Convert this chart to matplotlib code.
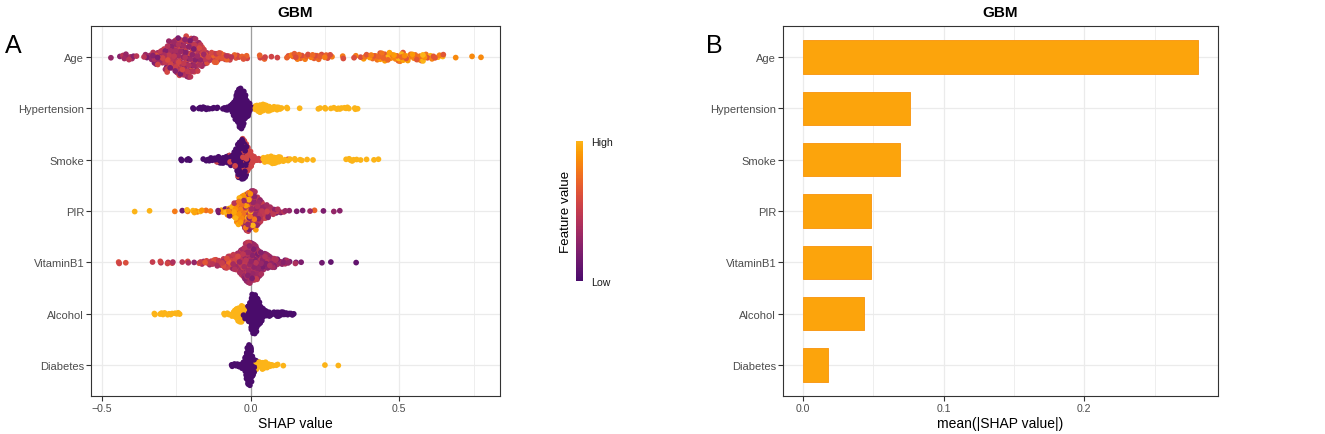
import numpy as np
import matplotlib
matplotlib.use('Agg')
import matplotlib.pyplot as plt
from matplotlib.colors import LinearSegmentedColormap, Normalize
from matplotlib.cm import ScalarMappable
from matplotlib.ticker import MultipleLocator

plt.rcParams['font.family'] = ['Liberation Sans', 'DejaVu Sans']

features = ['Age', 'Hypertension', 'Smoke', 'PIR', 'VitaminB1', 'Alcohol', 'Diabetes']
mean_abs_shap = [0.281, 0.0759, 0.0693, 0.0488, 0.0488, 0.0433, 0.0182]

# beeswarm data:
# *_x  = SHAP value (bin centre), *_n = number of points there,
# *_lo / *_hi = range of the (scaled) feature value of those points, 0 = low, 1 = high
age_x = [-0.47, -0.43, -0.41, -0.39, -0.35, -0.33, -0.31, -0.29, -0.27, -0.25, -0.23, -0.21,
         -0.19, -0.17, -0.15, -0.13, -0.11, -0.09, -0.07, -0.05, -0.03, -0.01, 0.03, 0.05,
         0.07, 0.09, 0.13, 0.15, 0.17, 0.19, 0.21, 0.23, 0.25, 0.27, 0.31, 0.35, 0.37, 0.39,
         0.41, 0.43, 0.45, 0.47, 0.49, 0.51, 0.53, 0.55, 0.57, 0.59, 0.61, 0.63, 0.65, 0.69,
         0.745, 0.775]
age_n = [1, 3, 4, 3, 3, 6, 10, 14, 19, 23, 26, 26,
         24, 17, 9, 7, 6, 5, 4, 3, 3, 2, 2, 2,
         1, 1, 3, 4, 4, 3, 4, 4, 3, 2, 2, 2, 1, 3,
         4, 5, 5, 6, 5, 6, 5, 5, 4, 4, 3, 3, 2, 1,
         1, 1]
age_lo = [0.3, 0.25, 0.25, 0.25, 0.2, 0.2, 0.2, 0.2, 0.2, 0.2, 0.2, 0.2,
          0.2, 0.3, 0.3, 0.45, 0.45, 0.45, 0.45, 0.55, 0.55, 0.55, 0.55, 0.55,
          0.55, 0.55, 0.6, 0.6, 0.6, 0.6, 0.6, 0.6, 0.6, 0.6, 0.6, 0.6, 0.6, 0.65,
          0.65, 0.65, 0.65, 0.65, 0.65, 0.65, 0.65, 0.65, 0.65, 0.65, 0.65, 0.65, 0.65, 0.85,
          0.85, 0.85]
age_hi = [0.3, 0.45, 0.45, 0.45, 0.45, 0.45, 0.6, 0.6, 0.6, 0.6, 0.6, 0.6,
          0.6, 0.65, 0.65, 0.7, 0.7, 0.7, 0.7, 0.7, 0.7, 0.7, 0.7, 0.7,
          0.7, 0.7, 0.8, 0.8, 0.8, 0.8, 0.8, 0.8, 0.8, 0.8, 0.8, 0.8, 0.8, 0.9,
          0.9, 0.9, 0.9, 1.0, 1.0, 1.0, 1.0, 1.0, 1.0, 1.0, 1.0, 1.0, 1.0, 0.85,
          0.85, 0.85]

hyp_x = [-0.19, -0.17, -0.15, -0.13, -0.11, -0.09, -0.07, -0.055, -0.04, -0.028, -0.016,
         -0.008, 0.025, 0.04, 0.06, 0.08, 0.10, 0.12, 0.165, 0.23, 0.25, 0.27, 0.29, 0.31,
         0.33, 0.35, 0.36]
hyp_n = [2, 3, 4, 3, 2, 3, 6, 18, 45, 40, 22,
         8, 10, 13, 9, 6, 3, 2, 1, 2, 2, 1, 3, 3,
         3, 2, 1]
hyp_lo = [0, 0, 0, 0, 0, 0, 0, 0, 0, 0, 0,
          0, 1, 1, 1, 1, 1, 1, 1, 1, 1, 1, 1, 1,
          1, 1, 1]
hyp_hi = hyp_lo

smk_x = [-0.23, -0.21, -0.15, -0.13, -0.11, -0.09, -0.07, -0.05, -0.035, -0.02,
         -0.11, -0.07, -0.05, -0.02, -0.005, 0.01, 0.03,
         0.05, 0.07, 0.09, 0.11, 0.125, 0.13, 0.15, 0.17, 0.19, 0.21,
         0.33, 0.35, 0.37, 0.39, 0.415, 0.43]
smk_n = [2, 3, 3, 5, 7, 9, 12, 16, 42, 24,
         2, 2, 4, 16, 20, 7, 3,
         8, 11, 8, 4, 1, 2, 2, 2, 1, 1,
         3, 3, 1, 1, 1, 1]
smk_lo = [0, 0, 0, 0, 0, 0, 0, 0, 0, 0,
          0.55, 0.55, 0.55, 0.55, 0.55, 0.55, 0.55,
          1, 1, 1, 1, 0.55, 1, 1, 1, 1, 1,
          1, 1, 1, 1, 1, 1]
smk_hi = smk_lo

pir_x = [-0.39, -0.34, -0.255, -0.23, -0.21, -0.19, -0.17, -0.15, -0.135, -0.11, -0.09, -0.085,
         -0.07, -0.07, -0.05, -0.05, -0.03, -0.03, -0.01, -0.01, 0.01, 0.01, 0.03, 0.05,
         0.07, 0.09, 0.11, 0.13, 0.155, 0.175, 0.2, 0.215, 0.245, 0.28, 0.3]
pir_n = [1, 1, 1, 1, 2, 3, 3, 1, 1, 2, 3, 1,
         8, 2, 16, 4, 22, 8, 20, 24, 7, 36, 26, 15,
         8, 5, 3, 1, 1, 1, 1, 1, 1, 1, 1]
pir_lo = [1.0, 1.0, 0.8, 0.15, 0.8, 0.9, 0.8, 0.75, 0.8, 0.15, 0.9, 0.15,
          0.85, 0.15, 0.8, 0.2, 0.7, 0.2, 0.7, 0.2, 0.75, 0.25, 0.25, 0.25,
          0.25, 0.2, 0.2, 0.3, 0.2, 0.2, 0.35, 0.7, 0.2, 0.3, 0.25]
pir_hi = [1.0, 1.0, 0.8, 0.15, 1.0, 1.0, 1.0, 0.75, 0.8, 0.2, 1.0, 0.15,
          1.0, 0.3, 1.0, 0.45, 1.0, 0.5, 1.0, 0.55, 1.0, 0.55, 0.55, 0.55,
          0.5, 0.5, 0.45, 0.3, 0.2, 0.2, 0.35, 0.7, 0.2, 0.3, 0.25]

vb1_x = [-0.44, -0.42, -0.33, -0.30, -0.28, -0.26, -0.23, -0.21, -0.19, -0.17, -0.15, -0.13,
         -0.11, -0.09, -0.07, -0.05, -0.03, -0.01, 0.01, 0.03, 0.05, 0.07, 0.09, 0.11,
         0.13, 0.15, 0.17, 0.24, 0.27, 0.355]
vb1_n = [2, 1, 1, 2, 2, 2, 1, 2, 1, 3, 4, 6,
         8, 10, 13, 19, 30, 44, 44, 30, 19, 12, 7, 5,
         3, 2, 1, 1, 1, 1]
vb1_lo = [0.55, 0.6, 0.5, 0.45, 0.45, 0.4, 0.45, 0.4, 0.3, 0.4, 0.4, 0.35,
          0.35, 0.35, 0.35, 0.3, 0.3, 0.25, 0.2, 0.2, 0.2, 0.2, 0.2, 0.2,
          0.2, 0.2, 0.2, 0.15, 0.1, 0.1]
vb1_hi = [0.6, 0.6, 0.5, 0.55, 0.55, 0.55, 0.45, 0.6, 0.3, 0.6, 0.65, 0.6,
          0.6, 0.6, 0.7, 0.6, 0.55, 0.5, 0.5, 0.5, 0.45, 0.45, 0.45, 0.4,
          0.4, 0.4, 0.2, 0.15, 0.1, 0.1]

alc_x = [-0.32, -0.30, -0.28, -0.26, -0.24, -0.09, -0.07, -0.055, -0.04, -0.025,
         -0.015, 0.0, 0.012, 0.025, 0.04, 0.06, 0.08, 0.10, 0.12, 0.14]
alc_n = [2, 3, 3, 3, 3, 2, 3, 8, 20, 12,
         8, 26, 46, 28, 14, 8, 6, 6, 5, 3]
alc_lo = [1, 1, 1, 1, 1, 1, 1, 1, 1, 1,
          0, 0, 0, 0, 0, 0, 0, 0, 0, 0]
alc_hi = alc_lo

dia_x = [-0.06, -0.045, -0.03, -0.015, -0.006, 0.004, 0.015, 0.04,
         0.02, 0.035, 0.05, 0.065, 0.085, 0.11, 0.25, 0.295]
dia_n = [2, 4, 6, 8, 46, 18, 3, 1,
         6, 7, 6, 4, 3, 1, 1, 1]
dia_lo = [0, 0, 0, 0, 0, 0, 0, 0,
          1, 1, 1, 1, 1, 1, 1, 1]
dia_hi = dia_lo

swarm = [(age_x, age_n, age_lo, age_hi), (hyp_x, hyp_n, hyp_lo, hyp_hi),
         (smk_x, smk_n, smk_lo, smk_hi), (pir_x, pir_n, pir_lo, pir_hi),
         (vb1_x, vb1_n, vb1_lo, vb1_hi), (alc_x, alc_n, alc_lo, alc_hi),
         (dia_x, dia_n, dia_lo, dia_hi)]

cmap = LinearSegmentedColormap.from_list('fv', plt.cm.inferno(np.linspace(0.22, 0.83, 256)))
ink = '#333333'
grid_col = '#EBEBEB'
rows = np.arange(len(features))[::-1]


def sina_layout(xs, ns, los, his, half=0.41, bw=0.006):
    # spread the points like geom_sina: width follows the local density
    px, pv = [], []
    for x, n, lo, hi in zip(xs, ns, los, his):
        px += [x] * n
        pv += list(np.linspace(lo, hi, n))
    px = np.array(px, float)
    pv = np.array(pv, float)
    k = np.arange(len(px)) + 1
    g = 1.32471795724474602596
    u = (0.5 + k / g) % 1
    v = (0.5 + k / g ** 2) % 1
    counts = np.repeat(ns, ns)
    spread = np.where(counts > 2, 0.02, 0.008 * (counts - 1))
    px = px + spread * (u - 0.5)
    dens = np.exp(-0.5 * ((px[:, None] - px[None, :]) / bw) ** 2).sum(axis=1)
    hw = half * dens / dens.max()
    dy = hw * (2 * v - 1)
    order = np.argsort((k * 0.6180339887) % 1)
    return px[order], dy[order], pv[order]


def style(ax, xlim):
    ax.set_ylim(-0.6, len(features) - 0.4)
    ax.set_xlim(*xlim)
    ax.set_yticks(rows)
    ax.set_yticklabels(features)
    ax.set_axisbelow(True)
    ax.grid(which='major', color=grid_col, lw=0.9)
    ax.grid(which='minor', axis='x', color=grid_col, lw=0.6)
    for s in ax.spines.values():
        s.set_color(ink)
        s.set_linewidth(0.8)
    ax.tick_params(which='major', length=3.4, width=0.8, color=ink,
                   labelcolor='#4D4D4D', labelsize=7.6, pad=1.5)
    ax.tick_params(axis='y', labelsize=8)
    ax.tick_params(which='minor', length=0)
    ax.set_title('GBM', fontweight='bold', fontsize=11, pad=7)


fig = plt.figure(figsize=(13.25, 4.35), dpi=100)

# A: SHAP summary (beeswarm)
ax1 = fig.add_axes([91 / 1325, 38 / 435, 409 / 1325, 370 / 435])
ax1.axvline(0, color='#9E9E9E', lw=0.9, zorder=1)
for row, (xs, ns, los, his) in zip(rows, swarm):
    px, dy, pv = sina_layout(xs, ns, los, his)
    ax1.scatter(px, row + dy, c=pv, cmap=cmap, vmin=0, vmax=1, s=17, linewidths=0, zorder=3)
ax1.xaxis.set_major_locator(MultipleLocator(0.5))
ax1.xaxis.set_minor_locator(MultipleLocator(0.25))
style(ax1, (-0.537, 0.839))
ax1.set_xticks([-0.5, 0, 0.5])
ax1.set_xticklabels(['\u22120.5', '0.0', '0.5'])
ax1.set_xlabel('SHAP value', fontsize=10, labelpad=2)

cax = fig.add_axes([576 / 1325, 1 - 282 / 435, 7 / 1325, 140 / 435])
cb = fig.colorbar(ScalarMappable(norm=Normalize(0, 1), cmap=cmap), cax=cax, ticks=[0, 1])
cb.outline.set_visible(False)
cb.ax.set_yticklabels(['Low', 'High'])
cb.ax.tick_params(length=0, pad=6, labelsize=7.6, labelcolor='#1A1A1A')
cb.ax.yaxis.set_label_position('left')
cb.set_label('Feature value', fontsize=9.6, labelpad=3)

# B: mean(|SHAP value|)
ax2 = fig.add_axes([783 / 1325, 38 / 435, 435 / 1325, 370 / 435])
ax2.barh(rows, mean_abs_shap, height=0.65, color='#FCA40C', edgecolor='#F99B1A', lw=0.7, zorder=3)
ax2.xaxis.set_major_locator(MultipleLocator(0.1))
ax2.xaxis.set_minor_locator(MultipleLocator(0.05))
style(ax2, (-0.01405, 0.295))
ax2.set_xticks([0, 0.1, 0.2])
ax2.set_xticklabels(['0.0', '0.1', '0.2'])
ax2.set_xlabel('mean(|SHAP value|)', fontsize=10, labelpad=2)

fig.text(5 / 1325, 1 - 46 / 435, 'A', fontsize=18, va='center', ha='left')
fig.text(706 / 1325, 1 - 46 / 435, 'B', fontsize=18, va='center', ha='left')

fig.savefig('out.png', dpi=100)
